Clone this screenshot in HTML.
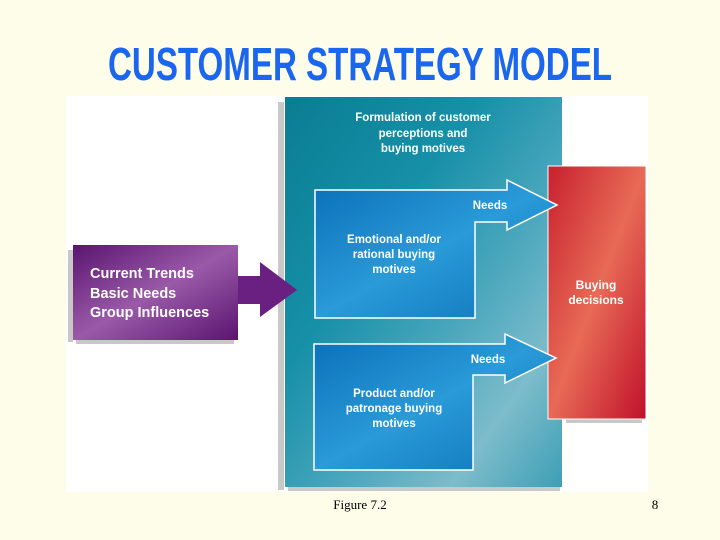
<!DOCTYPE html>
<html><head><meta charset="utf-8"><style>
html,body{margin:0;padding:0;background:#fdfdea;}
svg{display:block}
</style></head><body>
<svg width="720" height="540" viewBox="0 0 720 540" xmlns="http://www.w3.org/2000/svg" font-family="Liberation Sans, Arial, sans-serif">
<defs>
<linearGradient id="teal" x1="0" y1="0" x2="1" y2="1">
<stop offset="0" stop-color="#0a7d92"/><stop offset="0.35" stop-color="#1690a8"/><stop offset="0.6" stop-color="#4aa7bd"/><stop offset="0.8" stop-color="#7dbccb"/><stop offset="1" stop-color="#3d9fb5"/></linearGradient>
<linearGradient id="blue" x1="0" y1="0" x2="1" y2="1">
<stop offset="0" stop-color="#0a6fb8"/><stop offset="0.5" stop-color="#2a9ad8"/><stop offset="1" stop-color="#0a72b8"/></linearGradient>
<linearGradient id="red" x1="0" y1="0" x2="1" y2="1">
<stop offset="0" stop-color="#c8202e"/><stop offset="0.5" stop-color="#e86a56"/><stop offset="1" stop-color="#c0102a"/></linearGradient>
<linearGradient id="purp" x1="0" y1="0" x2="1" y2="1">
<stop offset="0" stop-color="#5a1470"/><stop offset="0.5" stop-color="#9a5aa8"/><stop offset="1" stop-color="#5a1470"/></linearGradient>
</defs>
<rect width="720" height="540" fill="#fdfdea"/>
<text x="108" y="80" font-size="46" font-weight="bold" fill="#1a66ee" textLength="504" lengthAdjust="spacingAndGlyphs">CUSTOMER  STRATEGY  MODEL</text>
<rect x="66" y="96" width="582" height="396" fill="#ffffff"/>
<!-- shadows -->
<rect x="278" y="102" width="6" height="388" fill="#c8c8c8"/>
<rect x="288" y="487" width="272" height="4" fill="#c8c8c8"/>
<rect x="68" y="250" width="5" height="92" fill="#c8c8c8"/>
<rect x="76" y="340" width="158" height="4" fill="#c8c8c8"/>
<rect x="566" y="419" width="76" height="4" fill="#c8c8c8"/>
<!-- teal -->
<rect x="285" y="97" width="277" height="390" fill="url(#teal)"/>
<!-- red -->
<rect x="548" y="166" width="98" height="253" fill="url(#red)" stroke="#ffffff" stroke-width="1"/>
<text fill="#fff" font-size="12" font-weight="bold" text-anchor="middle"><tspan x="596" y="289">Buying</tspan><tspan x="596" y="304">decisions</tspan></text>
<!-- purple -->
<rect x="73" y="245" width="165" height="95" fill="url(#purp)"/>
<polygon points="238,276 260,276 260,262 297,290 260,317 260,304 238,304" fill="#6a2080"/>
<text fill="#fff" font-size="14.5" font-weight="bold"><tspan x="90" y="278">Current Trends</tspan><tspan x="90" y="298">Basic Needs</tspan><tspan x="90" y="317">Group Influences</tspan></text>
<!-- teal text -->
<text fill="#fff" font-size="11.5" font-weight="bold" text-anchor="middle"><tspan x="423" y="121">Formulation of customer</tspan><tspan x="423" y="137">perceptions and</tspan><tspan x="423" y="152">buying motives</tspan></text>
<!-- box1 -->
<polygon points="315,190 507,190 507,180 557,205 507,230 507,222 475,222 475,318 315,318" fill="url(#blue)" stroke="#fff" stroke-width="1.5"/>
<text x="490" y="209" fill="#fff" font-size="11.5" font-weight="bold" text-anchor="middle">Needs</text>
<text fill="#fff" font-size="11.5" font-weight="bold" text-anchor="middle"><tspan x="394" y="243">Emotional and/or</tspan><tspan x="394" y="258">rational buying</tspan><tspan x="394" y="273">motives</tspan></text>
<!-- box2 -->
<polygon points="314,344 505,344 505,334 556,358 505,383 505,375 473,375 473,470 314,470" fill="url(#blue)" stroke="#fff" stroke-width="1.5"/>
<text x="488" y="363" fill="#fff" font-size="11.5" font-weight="bold" text-anchor="middle">Needs</text>
<text fill="#fff" font-size="11.5" font-weight="bold" text-anchor="middle"><tspan x="394" y="397">Product and/or</tspan><tspan x="394" y="412">patronage buying</tspan><tspan x="394" y="427">motives</tspan></text>
<text x="360" y="509" font-family="Liberation Serif, serif" font-size="13" text-anchor="middle" fill="#000">Figure 7.2</text>
<text x="655" y="509" font-family="Liberation Serif, serif" font-size="13" text-anchor="middle" fill="#000">8</text>
</svg>
</body></html>
